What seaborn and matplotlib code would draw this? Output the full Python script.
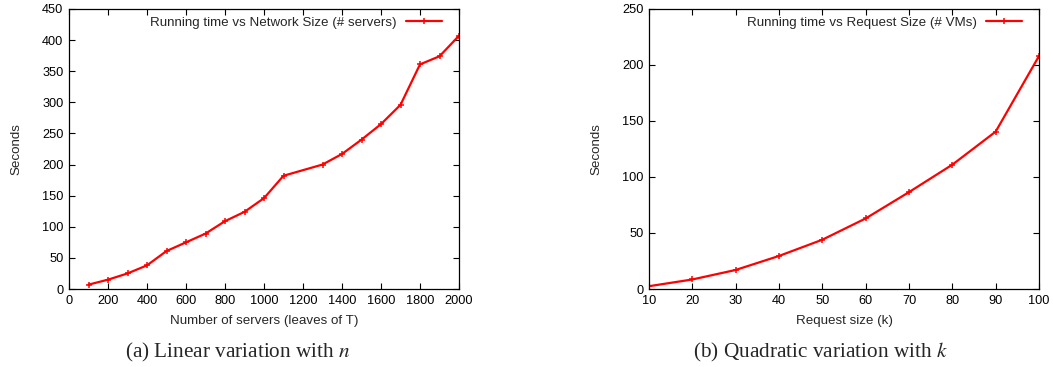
import matplotlib
matplotlib.use("Agg")
import matplotlib.pyplot as plt
import seaborn as sns
import pandas as pd

servers = [100, 200, 300, 400, 500, 600, 700, 800, 900, 1000, 1100, 1300, 1400, 1500, 1600, 1700, 1800, 1900, 2000]
servers_time = [7, 15, 25, 38, 61, 75, 89, 109, 124, 146, 182, 200, 217, 240, 265, 296, 361, 374, 407]

request = [10, 20, 30, 40, 50, 60, 70, 80, 90, 100]
request_time = [2.5, 8.5, 17, 29.5, 44, 63, 86.5, 111, 140.5, 208]

sns.set_theme(style="ticks")
plt.rcParams['font.family'] = ['Liberation Sans Narrow', 'Liberation Sans', 'DejaVu Sans']
plt.rcParams['mathtext.fontset'] = 'stix'

fig = plt.figure(figsize=(10.53, 3.67), dpi=100)
ax1 = fig.add_axes([69/1053, 1-289/367, 390/1053, 280/367])
ax2 = fig.add_axes([649/1053, 1-289/367, 390/1053, 280/367])

df1 = pd.DataFrame({"x": servers, "y": servers_time})
df2 = pd.DataFrame({"x": request, "y": request_time})

sns.lineplot(data=df1, x="x", y="y", ax=ax1, color="#ff0000", lw=1.6,
             marker="+", markersize=4, markeredgewidth=1.1, markeredgecolor="#ff0000",
             label="Running time vs Network Size (# servers)")
sns.lineplot(data=df2, x="x", y="y", ax=ax2, color="#ff0000", lw=1.6,
             marker="+", markersize=4, markeredgewidth=1.1, markeredgecolor="#ff0000",
             label="Running time vs Request Size (# VMs)")

ax1.set_xlim(0, 2000); ax1.set_ylim(0, 450)
ax1.set_xticks(range(0, 2001, 200)); ax1.set_yticks(range(0, 451, 50))
ax2.set_xlim(10, 100); ax2.set_ylim(0, 250)
ax2.set_xticks(range(10, 101, 10)); ax2.set_yticks(range(0, 251, 50))

ax1.set_xlabel("Number of servers (leaves of T)", fontsize=9.6, labelpad=6)
ax2.set_xlabel("Request size (k)", fontsize=9.6, labelpad=6)
for ax in (ax1, ax2):
    ax.set_ylabel("Seconds", fontsize=9.6, labelpad=14)
    ax.tick_params(direction="in", top=True, right=True, length=4, width=0.8,
                   labelsize=9.2, colors="black", pad=4)
    for s in ax.spines.values():
        s.set_linewidth(0.9); s.set_color("black")
    ax.legend(loc="upper right", bbox_to_anchor=(0.970, 0.993), borderaxespad=0,
              frameon=False, markerfirst=False, fontsize=9.6,
              handlelength=2.7, handletextpad=0.7)

fig.text(237.5/1053, 1-352/367, "(a) Linear variation with $n$",
         ha="center", va="center", fontsize=15.3, family="Liberation Serif")
fig.text(820/1053, 1-352/367, "(b) Quadratic variation with $k$",
         ha="center", va="center", fontsize=15.3, family="Liberation Serif")

fig.savefig("out.png", dpi=100)
